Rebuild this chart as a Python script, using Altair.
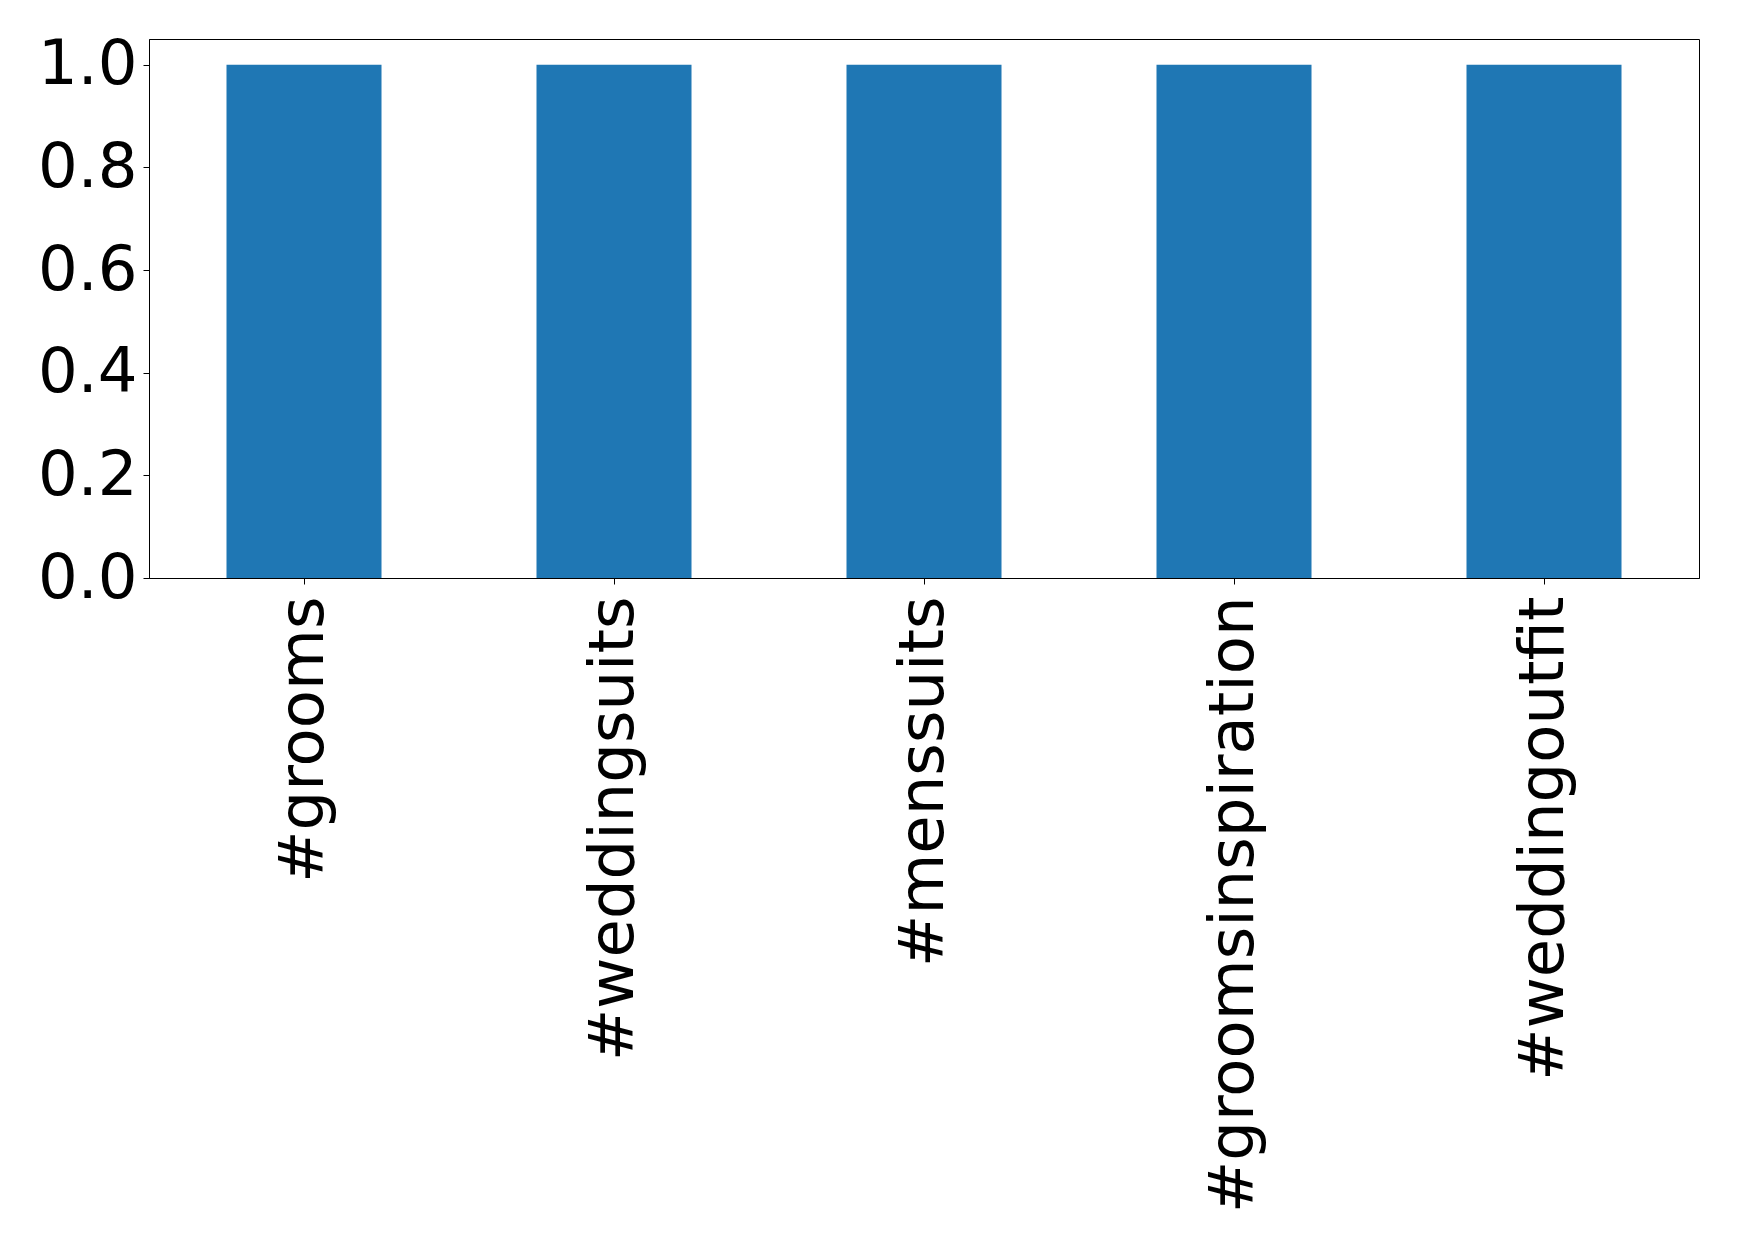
import altair as alt
import pandas as pd

tags = ["#grooms", "#weddingsuits", "#menssuits", "#groomsinspiration", "#weddingoutfit"]
counts = [1, 1, 1, 1, 1]
y_ticks = [0.0, 0.2, 0.4, 0.6, 0.8, 1.0]

df = pd.DataFrame({"tag": tags, "count": counts})

chart = alt.Chart(df).mark_bar(color="#1f77b4").encode(
    x=alt.X("tag:N", sort=tags, title=None,
            scale=alt.Scale(paddingInner=0.5, paddingOuter=0.25),
            axis=alt.Axis(labelAngle=270, labelFont="DejaVu Sans", labelFontSize=62.5,
                          labelColor="black", labelPadding=12, tickSize=6,
                          tickColor="black", domainColor="black", labelLimit=2000)),
    y=alt.Y("count:Q", title=None,
            scale=alt.Scale(domain=[0, 1.05], nice=False, zero=True),
            axis=alt.Axis(values=y_ticks, format=".1f", labelFont="DejaVu Sans",
                          labelFontSize=62.5, labelColor="black", labelPadding=6,
                          tickSize=6, tickColor="black", domainColor="black", grid=False)),
).properties(
    width=1550, height=539,
    autosize=alt.AutoSizeParams(type="none"),
    padding={"left": 141, "top": 31, "right": 30, "bottom": 640},
    background="white",
).configure_view(stroke="black", strokeWidth=1, strokeOpacity=1)

chart.save("out.html", embed_options={"renderer": "svg", "actions": False})
